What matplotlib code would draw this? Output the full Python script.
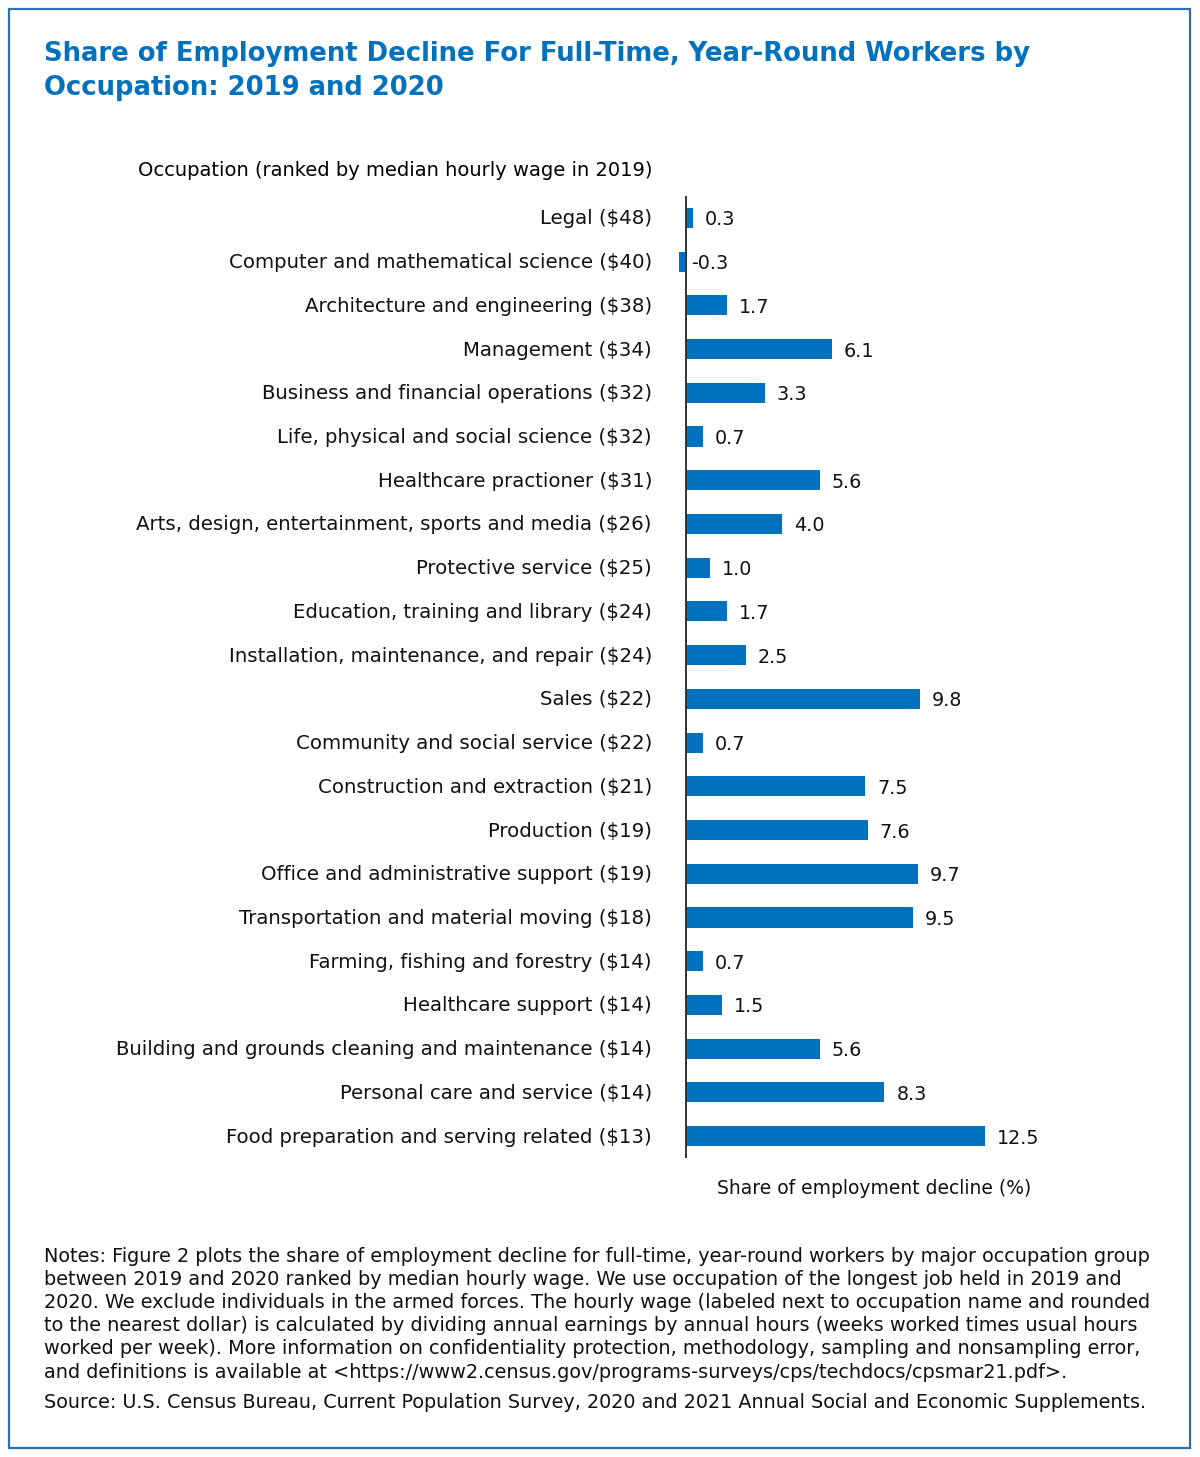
import matplotlib
matplotlib.use("Agg")
import matplotlib.pyplot as plt
from matplotlib.patches import Rectangle

plt.rcParams['font.family'] = ['DejaVu Sans']

occupations = [
    "Legal ($48)",
    "Computer and mathematical science ($40)",
    "Architecture and engineering ($38)",
    "Management ($34)",
    "Business and financial operations ($32)",
    "Life, physical and social science ($32)",
    "Healthcare practioner ($31)",
    "Arts, design, entertainment, sports and media ($26)",
    "Protective service ($25)",
    "Education, training and library ($24)",
    "Installation, maintenance, and repair ($24)",
    "Sales ($22)",
    "Community and social service ($22)",
    "Construction and extraction ($21)",
    "Production ($19)",
    "Office and administrative support ($19)",
    "Transportation and material moving ($18)",
    "Farming, fishing and forestry ($14)",
    "Healthcare support ($14)",
    "Building and grounds cleaning and maintenance ($14)",
    "Personal care and service ($14)",
    "Food preparation and serving related ($13)",
]
decline = [0.3, -0.3, 1.7, 6.1, 3.3, 0.7, 5.6, 4.0, 1.0, 1.7, 2.5, 9.8, 0.7,
           7.5, 7.6, 9.7, 9.5, 0.7, 1.5, 5.6, 8.3, 12.5]

title_lines = ["Share of Employment Decline For Full-Time, Year-Round Workers by",
               "Occupation: 2019 and 2020"]
ylabel = "Occupation (ranked by median hourly wage in 2019)"
xlabel = "Share of employment decline (%)"
notes = [
    "Notes: Figure 2 plots the share of employment decline for full-time, year-round workers by major occupation group",
    "between 2019 and 2020 ranked by median hourly wage. We use occupation of the longest job held in 2019 and",
    "2020. We exclude individuals in the armed forces. The hourly wage (labeled next to occupation name and rounded",
    "to the nearest dollar) is calculated by dividing annual earnings by annual hours (weeks worked times usual hours",
    "worked per week). More information on confidentiality protection, methodology, sampling and nonsampling error,",
    "and definitions is available at <https://www2.census.gov/programs-surveys/cps/techdocs/cpsmar21.pdf>.",
]
source = "Source: U.S. Census Bureau, Current Population Survey, 2020 and 2021 Annual Social and Economic Supplements."

BLUE = "#0071BC"
W, H = 1200, 1457
fig = plt.figure(figsize=(W / 100, H / 100), dpi=100)

def fx(px):
    return px / W

def fy(py):
    return 1 - py / H

PT = 72 / 100  # points per pixel

# border
fig.add_artist(Rectangle((fx(9), fy(1448)), fx(1190) - fx(9), fy(9) - fy(1448),
                         transform=fig.transFigure, fill=False,
                         edgecolor="#2E6DB4", linewidth=1.6))

# axes: value 0 at px 686, 23.9 px per unit
ppu = 23.9
xmin, xmax = -1.5, 20.0
left_px = 686 + xmin * ppu
right_px = 686 + xmax * ppu
top_px, bot_px = 196, 1158
ax = fig.add_axes([fx(left_px), fy(bot_px), fx(right_px) - fx(left_px), fy(top_px) - fy(bot_px)])
ax.set_xlim(xmin, xmax)
ax.set_ylim(len(occupations) - 0.5, -0.5)

ypos = list(range(len(occupations)))
ax.barh(ypos, decline, height=0.46, color=BLUE)
ax.axvline(0, color="#333333", linewidth=1.4)
for y, v in zip(ypos, decline):
    ax.annotate(f"{v:.1f}", xy=(v, y), xytext=(12 * PT, -2 * PT),
                textcoords="offset points", ha="left", va="center",
                fontsize=13.8, color="#111111")
    ax.annotate(occupations[y], xy=(0, y), xytext=(-34 * PT, -1 * PT),
                textcoords="offset points", ha="right", va="center",
                fontsize=14.25, color="#111111")
ax.set_xticks([])
ax.set_yticks([])
for s in ax.spines.values():
    s.set_visible(False)

# texts
for i, line in enumerate(title_lines):
    fig.text(fx(44), fy(61 + 34 * i), line, fontsize=18.6, fontweight="bold",
             color=BLUE, ha="left", va="baseline")
fig.text(fx(652), fy(171), ylabel, fontsize=14.0, fontweight="normal",
         color="#000000", ha="right", va="center")
fig.text(fx(874), fy(1188), xlabel, fontsize=13.5, color="#111111",
         ha="center", va="center")
for i, line in enumerate(notes):
    fig.text(fx(44), fy(1256 + i * 23.2), line, fontsize=13.85, color="#111111",
             ha="left", va="center")
fig.text(fx(44), fy(1402), source, fontsize=13.75, color="#111111",
         ha="left", va="center")

fig.savefig("out.png", dpi=100)
